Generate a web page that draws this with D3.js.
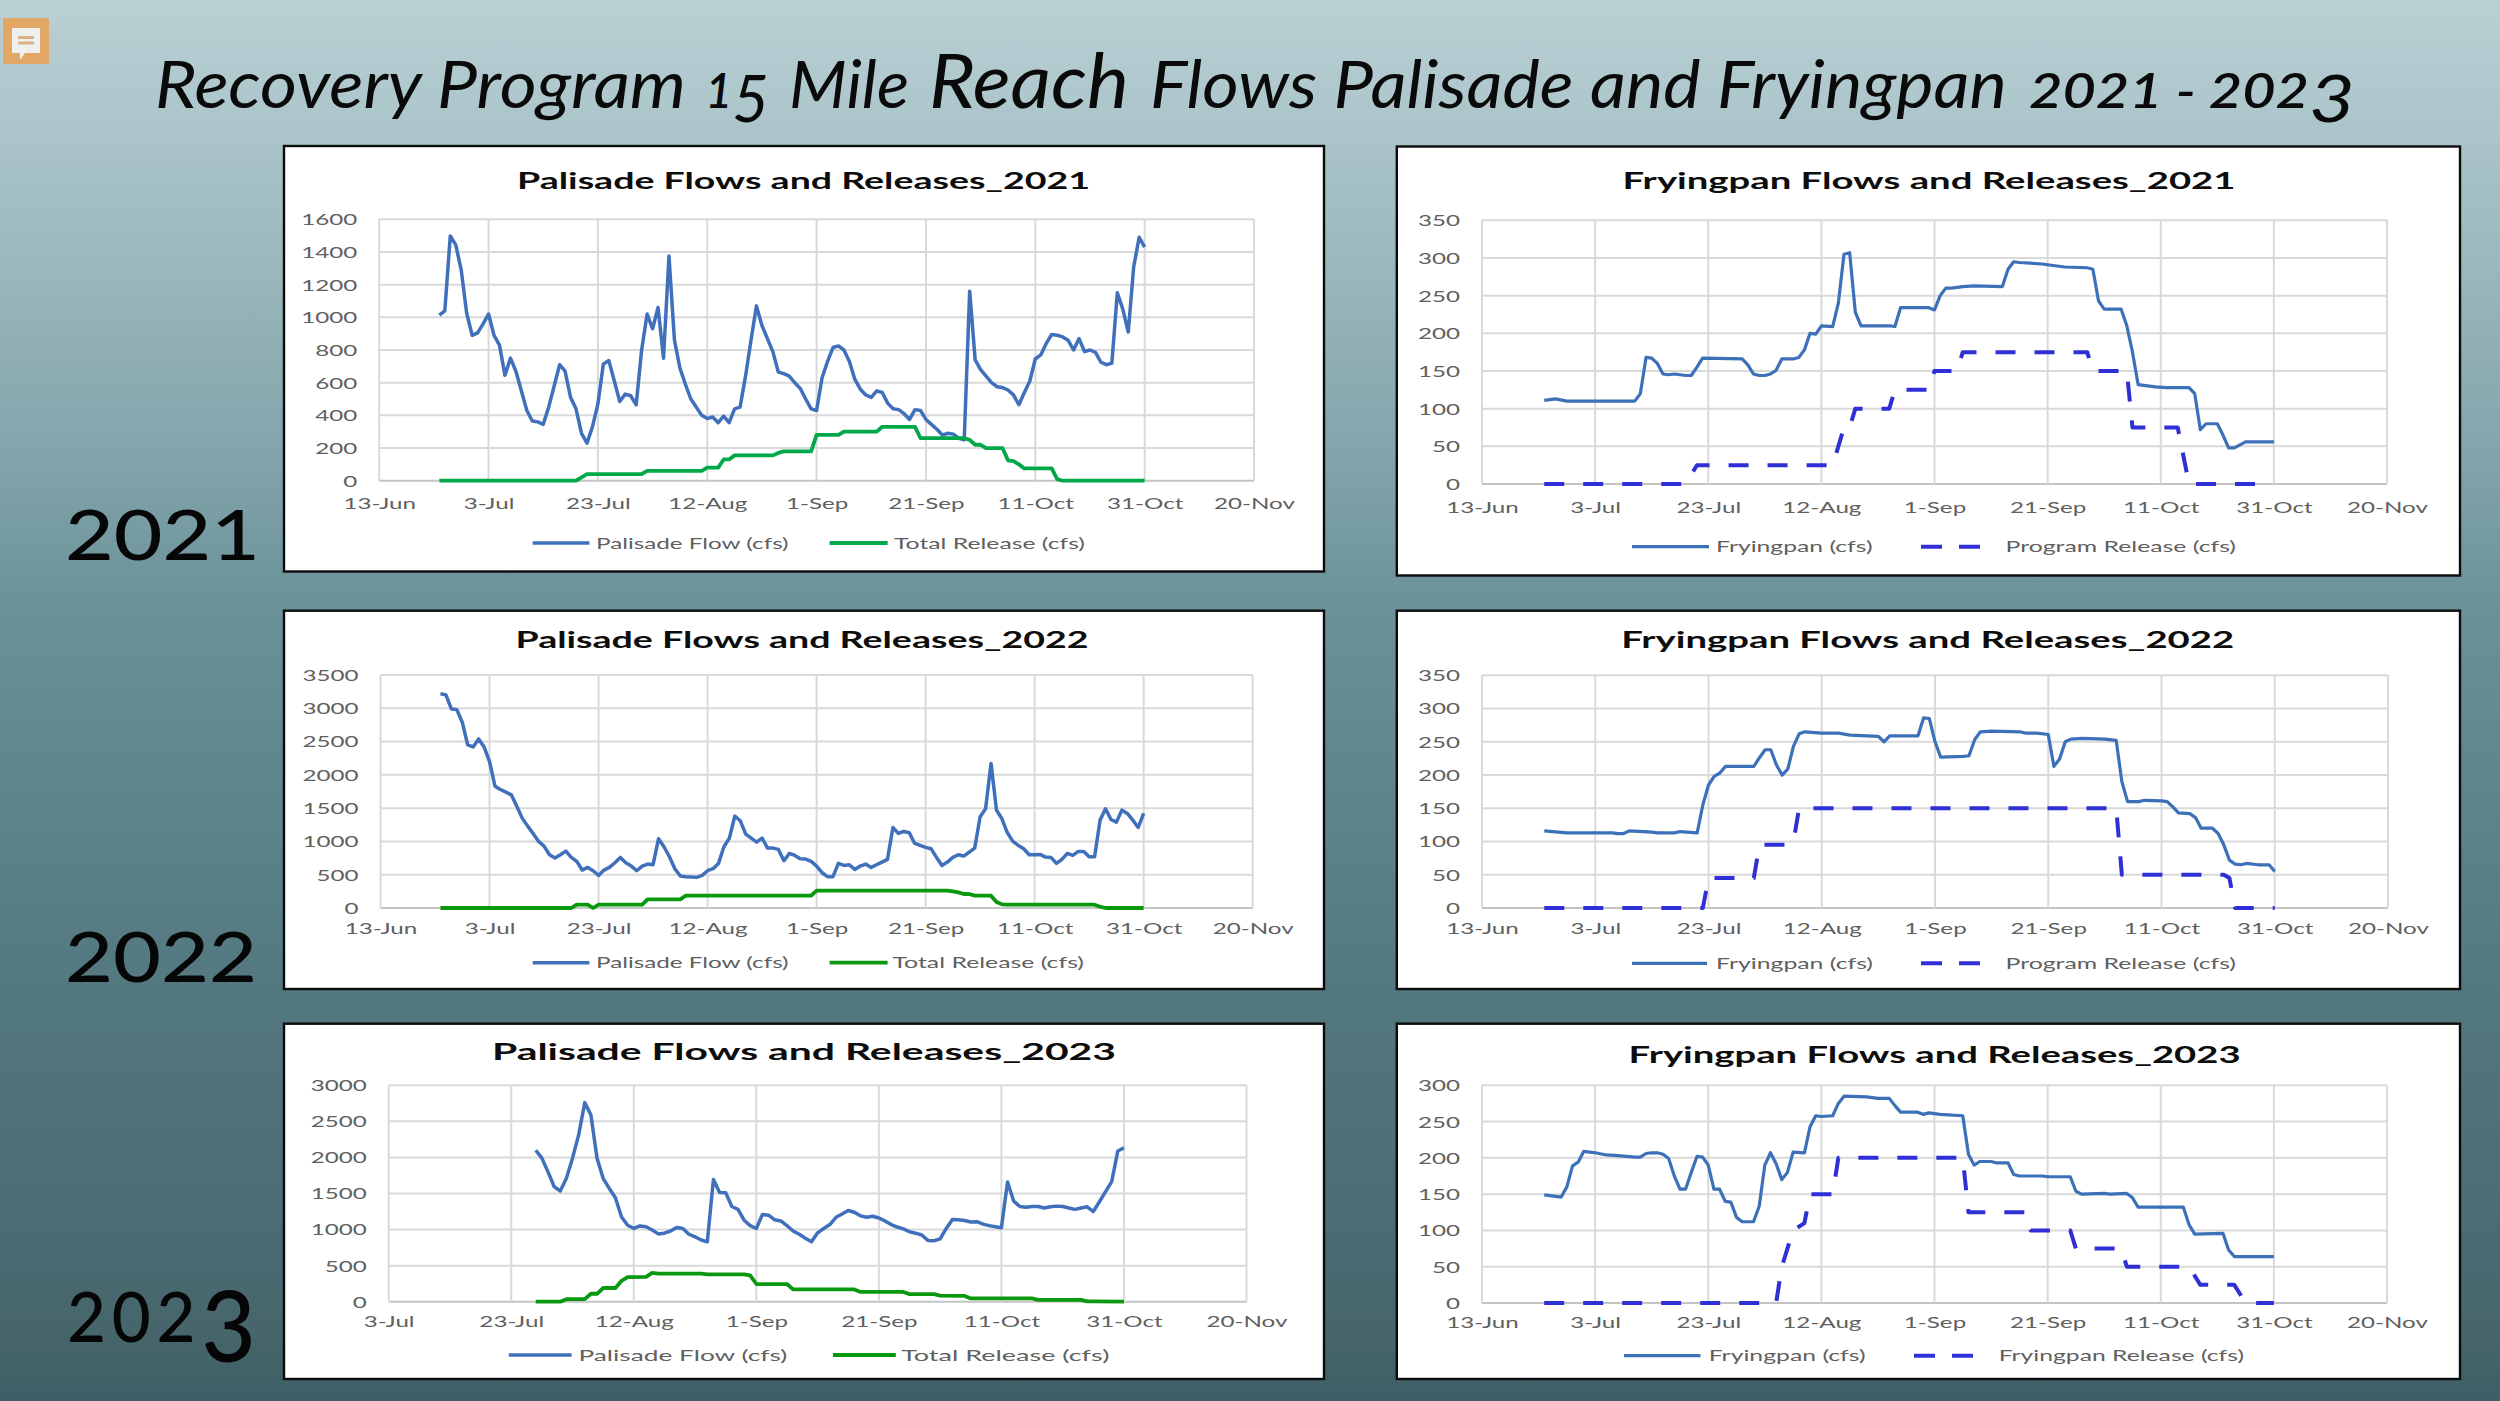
<!DOCTYPE html>
<html><head><meta charset="utf-8">
<script src="https://cdn.jsdelivr.net/npm/d3@7"></script>
<style>html,body{margin:0;padding:0;background:#6b9299}svg{display:block}</style>
</head><body><svg id="c" width="2500" height="1401"></svg>
<script>
// ---- data: all days are counted from 13-Jun of the chart's year ----
const xTickDays = [0,20,40,60,80,100,120,140,160];
const palisadeStartDay = 11;
const palisade2021 = [1014,1040,1498,1443,1290,1025,890,905,960,1020,890,830,645,750,670,550,430,365,360,345,450,580,710,670,510,440,290,230,330,470,715,735,610,485,530,520,465,800,1020,930,1060,750,1375,860,690,590,500,450,400,380,390,355,395,355,440,450,640,860,1070,950,870,790,665,655,640,600,565,500,440,430,630,730,815,825,800,730,620,560,525,510,550,540,475,440,435,410,375,435,430,375,345,315,280,290,285,260,250,1160,740,680,640,600,575,570,555,525,465,540,610,745,770,840,895,890,880,860,800,870,790,800,785,725,710,720,1150,1050,910,1310,1490,1430];
const release2021 = [[11,0],[36,0],[37,20],[38,40],[48,40],[49,60],[59,60],[60,80],[62,80],[63,130],[64,130],[65,155],[72,155],[73,170],[74,180],[79,180],[80,280],[84,280],[85,300],[91,300],[92,330],[98,330],[99,260],[107,260],[108,250],[109,220],[110,220],[111,200],[114,200],[115,125],[116,120],[117,100],[118,75],[123,75],[124,10],[125,0],[140,0]];
const palisade2022 = [3220,3200,2990,2980,2790,2450,2420,2540,2420,2200,1830,1780,1740,1700,1530,1350,1230,1120,1000,930,800,750,800,855,760,700,570,610,560,490,570,610,680,760,680,630,560,630,660,650,1040,920,770,590,480,470,465,460,490,560,590,670,920,1050,1380,1310,1110,1050,990,1050,900,900,880,710,820,790,740,735,700,630,530,470,470,670,640,650,580,630,660,610,650,690,730,1210,1120,1150,1130,970,940,910,890,760,640,690,760,800,780,840,900,1370,1490,2170,1470,1340,1130,1000,940,890,800,800,805,765,760,670,730,820,790,850,850,770,770,1320,1490,1330,1290,1470,1420,1320,1210,1420];
const release2022 = [[11,0],[35,0],[36,50],[38,50],[39,0],[40,50],[48,50],[49,130],[55,130],[56,185],[79,185],[80,260],[104,260],[105,250],[106,235],[107,210],[108,210],[109,185],[112,185],[113,90],[114,55],[115,50],[131,50],[132,20],[133,0],[140,0]];
const palisade2023StartDay = 44;
const palisade2023 = [2100,1990,1800,1595,1535,1710,1990,2310,2760,2590,1990,1710,1570,1440,1175,1060,1015,1050,1040,995,940,950,980,1030,1015,935,900,855,830,1695,1515,1510,1320,1280,1130,1055,1015,1210,1200,1135,1120,1055,980,935,880,830,955,1015,1070,1170,1215,1265,1240,1190,1170,1185,1160,1120,1070,1035,1010,970,950,925,850,845,870,1015,1140,1135,1125,1105,1110,1075,1055,1040,1025,1660,1395,1320,1310,1320,1320,1300,1315,1325,1320,1300,1280,1300,1315,1250,1385,1525,1665,2090,2135];
const release2023 = [[44,0],[48,0],[49,35],[52,35],[53,110],[54,110],[55,190],[57,190],[58,290],[59,340],[62,345],[63,400],[64,390],[71,390],[72,380],[78,380],[79,365],[80,245],[85,245],[86,170],[96,170],[97,135],[104,135],[105,105],[109,105],[110,85],[114,80],[115,45],[125,45],[126,25],[133,25],[134,5],[135,5],[140,0]];
const fryingpan2021 = [[11,111],[13,113],[15,110],[27,110],[28,120],[29,168],[30,167],[31,160],[32,146],[33,145],[34,146],[36,144],[37,144],[38,155],[39,167],[46,166],[47,158],[48,146],[49,144],[50,144],[51,146],[52,151],[53,166],[55,166],[56,168],[57,178],[58,200],[59,199],[60,210],[62,209],[63,240],[64,305],[65,307],[66,228],[67,210],[72,210],[73,209],[74,234],[79,234],[80,231],[81,250],[82,260],[83,260],[85,262],[87,263],[92,262],[93,285],[94,295],[95,294],[99,292],[101,290],[103,288],[107,287],[108,285],[109,243],[110,232],[113,232],[114,210],[115,175],[116,132],[117,131],[119,129],[121,128],[125,128],[126,120],[127,72],[128,80],[130,80],[131,65],[132,48],[133,48],[135,56],[140,56]];
const program2021 = [[11,0],[36,0],[38,25],[62,25],[64,75],[65,75],[66,100],[72,100],[73,125],[79,125],[80,150],[84,150],[85,175],[107,175],[108,150],[114,150],[115,75],[123,75],[125,0],[140,0]];
const fryingpan2022 = [[11,116],[15,113],[23,113],[24,112],[25,112],[26,116],[30,114],[31,113],[34,113],[35,115],[38,113],[39,155],[40,185],[41,198],[42,203],[43,213],[48,213],[49,226],[50,238],[51,238],[52,215],[53,200],[54,209],[55,243],[56,262],[57,265],[60,263],[63,263],[65,260],[68,259],[70,258],[71,250],[72,259],[77,259],[78,286],[79,285],[80,250],[81,227],[85,228],[86,229],[87,253],[88,265],[90,266],[95,265],[96,263],[98,263],[100,261],[101,213],[102,224],[103,250],[104,254],[106,255],[110,254],[112,252],[113,190],[114,160],[116,160],[117,162],[120,161],[121,160],[122,152],[123,143],[125,142],[126,136],[127,120],[129,120],[130,112],[131,95],[132,72],[133,66],[134,65],[135,67],[137,65],[139,65],[140,55]];
const program2022 = [[11,0],[39,0],[40,45],[48,45],[49,95],[54,95],[55,100],[56,150],[112,150],[113,50],[131,50],[132,45],[133,0],[140,0]];
const fryingpan2023 = [[11,149],[13,147],[14,146],[15,160],[16,189],[17,194],[18,209],[19,208],[20,207],[22,204],[24,203],[27,201],[28,201],[29,206],[30,207],[31,207],[32,205],[33,199],[34,175],[35,157],[36,157],[37,180],[38,202],[39,201],[40,190],[41,157],[42,157],[43,140],[44,139],[45,118],[46,112],[48,112],[49,133],[50,190],[51,207],[52,192],[53,170],[54,180],[55,208],[57,207],[58,243],[59,258],[60,257],[62,258],[63,275],[64,285],[68,284],[70,282],[72,282],[73,272],[74,263],[77,263],[78,260],[79,262],[81,260],[85,258],[86,205],[87,190],[88,195],[90,195],[91,193],[93,193],[94,177],[95,175],[99,175],[100,174],[104,174],[105,154],[106,150],[110,151],[111,150],[114,151],[115,145],[116,132],[124,132],[125,108],[126,95],[131,96],[132,73],[133,64],[140,64]];
const program2023 = [[11,0],[52,0],[53,50],[54,75],[55,100],[57,110],[58,150],[62,150],[63,200],[85,200],[86,125],[96,125],[97,100],[104,100],[105,75],[113,75],[114,50],[125,50],[127,25],[133,25],[135,0],[140,0]];

const palisadeTicks2021 = [0,200,400,600,800,1000,1200,1400,1600];
const palisadeTicks2022 = [0,500,1000,1500,2000,2500,3000,3500];
const palisadeTicks2023 = [0,500,1000,1500,2000,2500,3000];
const fryingpanTicks2122 = [0,50,100,150,200,250,300,350];
const fryingpanTicks2023 = [0,50,100,150,200,250,300];

// main title pieces: [runs, from-x, to-x]; run kind n = letters, d = small old-style digit, s = descending digit
const titlePieces = [
  [[["Recovery Program","n"]],155,686],
  [[["1","d"],["5","s"]],705.5,769],
  [[["Mile","n"]],789,909],
  [[["Reach","r"]],929,1129],
  [[["Flows Palisade and Fryingpan","n"]],1150,2007],
  [[["2021 - 202","d"],["3","s"]],2029,2355]
];
const yearPieces = [
  [[["2021","d"]],65,260,560,0],
  [[["2022","d"]],65,257,982,0],
  [[["202","d"],["3","s"]],67,256,1342,6]
];

const dailyFrom = (start, values) => values.map((v,i)=>[start+i,v]);

const BLUE="#4070BC", BLUE2="#3C70B8", GREEN1="#00A84A", GREEN2="#0A980F", DASH="#2F2FD6";

const panels = [
 {year:2021,title:"Palisade Flows and Releases_2021",frame:[284,146,1324,571.5],plot:[379.2,219.3,1254,480.7],start:0,ticks:palisadeTicks2021,
  tc:803.6,tw:573,ty:180,axy:503.5,legy:543,
  a:{name:"Palisade Flow (cfs)",data:dailyFrom(palisadeStartDay,palisade2021),color:BLUE,w:3.5,l:[532.7,589.4],t:[596,788.6]},
  b:{name:"Total Release (cfs)",data:release2021,color:GREEN1,w:3.8,l:[829.6,887.6],t:[894,1085]}},
 {year:2021,title:"Fryingpan Flows and Releases_2021",frame:[1396.8,146.5,2460,575.5],plot:[1482,220.3,2387,484],start:0,ticks:fryingpanTicks2122,
  tc:1929,tw:613,ty:180,axy:507.3,legy:546.7,
  a:{name:"Fryingpan (cfs)",data:fryingpan2021,color:BLUE2,w:3.2,l:[1632,1709],t:[1716,1872.5]},
  b:{name:"Program Release (cfs)",data:program2021,color:DASH,w:4,dash:"20 19",l:[1921,1980],t:[2005.5,2236]}},
 {year:2022,title:"Palisade Flows and Releases_2022",frame:[284,610.7,1324,989],plot:[380.5,675,1252.7,908],start:0,ticks:palisadeTicks2022,
  tc:802,tw:573,ty:639,axy:928.7,legy:962.7,
  a:{name:"Palisade Flow (cfs)",data:dailyFrom(palisadeStartDay,palisade2022),color:BLUE,w:3.5,l:[532.7,589.4],t:[596,788.6]},
  b:{name:"Total Release (cfs)",data:release2022,color:GREEN2,w:3.8,l:[829.6,887.6],t:[892.5,1084]}},
 {year:2022,title:"Fryingpan Flows and Releases_2022",frame:[1396.8,610.7,2460,989],plot:[1482,675.3,2388,908],start:0,ticks:fryingpanTicks2122,
  tc:1927.7,tw:613,ty:639,axy:928.7,legy:963.3,
  a:{name:"Fryingpan (cfs)",data:fryingpan2022,color:BLUE2,w:3.2,l:[1632,1707],t:[1716,1873]},
  b:{name:"Program Release (cfs)",data:program2022,color:DASH,w:4,dash:"20 19",l:[1921,1980],t:[2005.5,2236]}},
 {year:2023,title:"Palisade Flows and Releases_2023",frame:[284,1023.7,1324,1379],plot:[388.7,1085.3,1246.5,1301.7],start:20,ticks:palisadeTicks2023,
  tc:804,tw:624,ty:1051.7,axy:1321.7,legy:1355,
  a:{name:"Palisade Flow (cfs)",data:dailyFrom(palisade2023StartDay,palisade2023),color:BLUE,w:3.5,l:[508.8,571.6],t:[578.4,787.3]},
  b:{name:"Total Release (cfs)",data:release2023,color:GREEN2,w:3.8,l:[833,895.8],t:[901.2,1109.4]}},
 {year:2023,title:"Fryingpan Flows and Releases_2023",frame:[1396.8,1023.7,2460,1379],plot:[1482,1085.3,2387,1303],start:0,ticks:fryingpanTicks2023,
  tc:1934.6,tw:612,ty:1054.3,axy:1322.7,legy:1355.7,
  a:{name:"Fryingpan (cfs)",data:fryingpan2023,color:BLUE2,w:3.2,l:[1624,1700.5],t:[1708.7,1865.6]},
  b:{name:"Fryingpan Release (cfs)",data:program2023,color:DASH,w:4,dash:"20 19",l:[1914,1975.5],t:[1998.7,2244]}}
];

const svg = d3.select("#c");
const FONT = "Lato, Carlito, 'Open Sans', sans-serif";
const NARROW = "'Liberation Sans Narrow', Lato, sans-serif";
const SX = 1.56; // reference text is a horizontally stretched screen capture

// background
const defs = svg.append("defs");
const g = defs.append("linearGradient").attr("id","bg").attr("x1",0).attr("y1",0).attr("x2",0).attr("y2",1);
[[0,"#B9D0D4"],[0.1,"#AAC4C9"],[0.34,"#7FA2A8"],[0.43,"#6B9299"],[0.68,"#557A81"],[0.95,"#46666C"],[1,"#3F5F66"]]
  .forEach(s=>g.append("stop").attr("offset",s[0]).attr("stop-color",s[1]));
svg.append("rect").attr("width",2500).attr("height",1401).attr("fill","url(#bg)");

// comment icon
svg.append("rect").attr("x",3).attr("y",18).attr("width",46).attr("height",46).attr("rx",2).attr("fill","#E3A765");
svg.append("path").attr("d","M12 28H40V53H25L20 60V53H12Z").attr("fill","#EEF0EE");
svg.append("rect").attr("x",18).attr("y",36).attr("width",16).attr("height",3).attr("fill","#DDB184");
svg.append("rect").attr("x",18).attr("y",41.5).attr("width",16).attr("height",3).attr("fill","#DDB184");

// text made of runs; stretched horizontally to span x0..x1
function runsText(runs, x0, x1, yBase, sizes, drop, opts){
  const t = svg.append("text").attr("font-family",FONT).attr("fill",opts.fill)
    .attr("font-style",opts.italic?"italic":null).attr("font-weight",opts.weight||null);
  let prevDrop = 0;
  runs.forEach(([str,kind])=>{
    const d = kind==="s"?drop:0;
    const ts = t.append("tspan").text(str).attr("font-size",sizes[kind]).attr("dy",d-prevDrop);
    if(kind==="s") ts.attr("font-family",NARROW);
    if(kind==="d" && opts.spacing) ts.attr("letter-spacing",opts.spacing);
    if(kind==="d" && opts.dWeight) ts.attr("font-weight",opts.dWeight);
    prevDrop = d;
  });
  const len = t.node().getComputedTextLength();
  t.attr("transform",`translate(${x0},${yBase}) scale(${(x1-x0)/len},1)`);
}
titlePieces.forEach(([runs,x0,x1])=>runsText(runs,x0,x1,108,{n:66,r:76,d:48,s:66},14,{italic:true,fill:"#0a0a0a",dWeight:600}));

// year labels
yearPieces.forEach(([runs,x0,x1,yb,sp])=>runsText(runs,x0,x1,yb,{d:70,s:98},20,{fill:"#060606",weight:500,spacing:sp}));

// panels
panels.forEach(p=>{
  const [fx0,fy0,fx1,fy1]=p.frame, [px0,py0,px1,py1]=p.plot;
  const base = new Date(p.year,5,13);
  const date = d=>d3.timeDay.offset(base,d);
  const x = d3.scaleTime().domain([date(p.start),date(160)]).range([px0,px1]);
  const y = d3.scaleLinear().domain([0,d3.max(p.ticks)]).range([py1,py0]);
  const xt = xTickDays.filter(d=>d>=p.start).map(date);

  svg.append("rect").attr("x",fx0).attr("y",fy0).attr("width",fx1-fx0).attr("height",fy1-fy0)
    .attr("fill","#fff").attr("stroke","#0b0b0b").attr("stroke-width",2.4);

  svg.append("text").text(p.title).attr("x",p.tc-p.tw/2).attr("y",p.ty+8.5)
    .attr("textLength",p.tw).attr("lengthAdjust","spacingAndGlyphs")
    .attr("font-family",FONT).attr("font-weight",700).attr("font-size",23.5).attr("fill","#0d0d0d");

  const grid = svg.append("g").attr("stroke","#D9D9D9").attr("stroke-width",2);
  grid.selectAll(".h").data(p.ticks).join("line").attr("x1",px0).attr("x2",px1).attr("y1",d=>y(d)).attr("y2",d=>y(d))
    .attr("stroke",d=>d===0?"#C4C4C4":"#D9D9D9");
  grid.selectAll(".v").data(xt).join("line").attr("y1",py0).attr("y2",py1).attr("x1",d=>x(d)).attr("x2",d=>x(d));

  const ax = svg.append("g").attr("transform",`translate(0,${p.axy})`)
    .call(d3.axisBottom(x).tickValues(xt).tickSize(0).tickPadding(0).tickFormat(d3.timeFormat("%-d-%b")));
  const ay = svg.append("g").attr("transform",`translate(${px0},0)`)
    .call(d3.axisLeft(y).tickValues(p.ticks).tickSize(0).tickPadding(0).tickFormat(d3.format("d")));
  [ax,ay].forEach(a=>{a.select(".domain").remove();
    a.selectAll("text").attr("font-family",FONT).attr("font-size",15.5).attr("fill","#606060");});
  ax.selectAll("text").attr("y",0).attr("dy","0.35em").attr("transform",`scale(${SX},1)`);
  ay.selectAll("text").attr("x",-22/SX).attr("dy","0.35em").attr("transform",`scale(${SX},1)`);

  const line = d3.line().x(d=>x(date(d[0]))).y(d=>y(d[1]));
  [p.a,p.b].forEach(s=>{
    svg.append("path").attr("d",line(s.data)).attr("fill","none").attr("stroke",s.color)
      .attr("stroke-width",s.w).attr("stroke-dasharray",s.dash||null).attr("stroke-linejoin","round");
    svg.append("line").attr("x1",s.l[0]).attr("x2",s.l[1]).attr("y1",p.legy).attr("y2",p.legy)
      .attr("stroke",s.color).attr("stroke-width",s.w).attr("stroke-dasharray",s.dash?"21 17":null);
    svg.append("text").text(s.name).attr("x",s.t[0]).attr("y",p.legy).attr("dy","0.35em")
      .attr("textLength",s.t[1]-s.t[0]).attr("lengthAdjust","spacingAndGlyphs")
      .attr("font-family",FONT).attr("font-size",16).attr("fill","#606060");
  });
});
</script></body></html>
